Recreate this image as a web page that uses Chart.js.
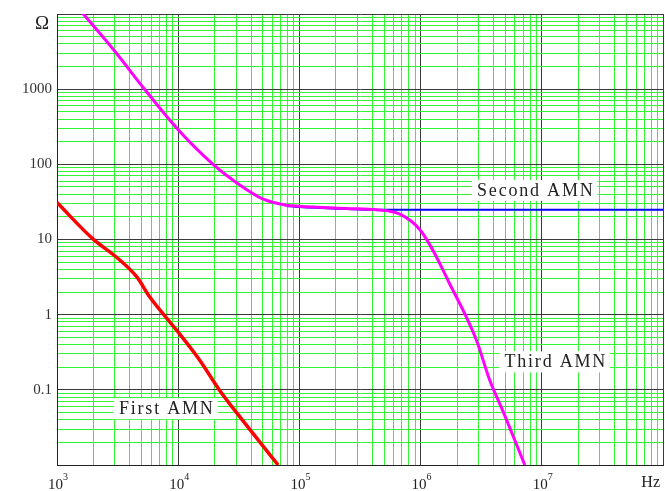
<!DOCTYPE html>
<html>
<head>
<meta charset="utf-8">
<script src="https://cdn.jsdelivr.net/npm/chart.js@4.4.1/dist/chart.umd.min.js"></script>
<style>
html, body { margin: 0; padding: 0; background: #fff; }
#wrap { width: 665px; height: 491px; }
</style>
</head>
<body>
<div id="wrap"><canvas id="chart" width="665" height="491"></canvas></div>
<script>
// Impedance (Ω) vs frequency (Hz) of three AMN types, log-log

const xTickValues = [1e3, 1e4, 1e5, 1e6, 1e7];
const xTickExps = ['3', '4', '5', '6', '7'];
const xUnit = 'Hz';

const yTickValues = [1e3, 1e2, 10, 1, 0.1];
const yTickLabels = ['1000', '100', '10', '1', '0.1'];
const yUnit = 'Ω';

const firstFreq = [1000, 1990, 3100, 4540, 5850, 7480, 10000, 15100, 22000, 32300, 66800];
const firstOhm  = [31, 10.1, 5.8, 3.2, 1.7, 1.03, 0.585, 0.246, 0.098, 0.0436, 0.01];

const secondFreq = [78400, 1e5, 245000, 434000, 1e6, 1e7, 1e8];
const secondOhm  = [28, 27, 25.4, 24.8, 24.8, 24.8, 24.8];

const thirdFreq = [1000, 1650, 3000, 5300, 9700, 19400, 30300, 50300, 78400, 1e5, 245000, 434000,
                   675000, 987000, 1.27e6, 1.74e6, 2.39e6, 2.9e6, 3.72e6, 4.76e6, 7.24e6];
const thirdOhm  = [26000, 10000, 3190, 990, 305, 100, 57, 34.4, 28.6, 27.7, 25.8, 24.8,
                   21.7, 13.5, 7.1, 2.56, 0.92, 0.45, 0.134, 0.053, 0.01];

// curve captions, anchored in data units
const notes = [
    { text: 'First AMN', f: 7900, ohm: 0.057 },
    { text: 'Second AMN', f: 8.75e6, ohm: 45.6 },
    { text: 'Third AMN', f: 1.28e7, ohm: 0.239 }
];

const SERIF = "'Liberation Serif', 'Times New Roman', serif";
const GREEN = '#33f533';
const DARK = '#3a3a3a';

const toPoints = (xs, ys) => xs.map((x, i) => ({ x: x, y: ys[i] }));

const isDecade = v => Math.abs(Math.log10(v) - Math.round(Math.log10(v))) < 1e-9;

// 1..9 x 10^n ticks so every minor grid line is drawn
function logTicks(min, max) {
    const ticks = [];
    for (let e = Math.round(Math.log10(min)); e <= Math.round(Math.log10(max)); e++) {
        for (let m = 1; m <= 9; m++) {
            const v = m * Math.pow(10, e);
            if (v >= min * 0.999 && v <= max * 1.001) ticks.push({ value: v });
        }
    }
    return ticks;
}

const gridColor = ctx => (ctx.tick && isDecade(ctx.tick.value)) ? DARK : GREEN;

const labelPlugin = {
    id: 'labels',
    afterDraw(chart) {
        const ctx = chart.ctx;
        const xs = chart.scales.x, ys = chart.scales.y;
        const area = chart.chartArea;
        ctx.save();
        ctx.fillStyle = '#222';
        ctx.textBaseline = 'alphabetic';

        // x tick labels: 10 with superscript exponent
        xTickValues.forEach((v, i) => {
            const px = xs.getPixelForValue(v);
            ctx.font = '15px ' + SERIF;
            const w1 = ctx.measureText('10').width;
            ctx.font = '10px ' + SERIF;
            const w2 = ctx.measureText(xTickExps[i]).width;
            const start = px - (w1 + w2) / 2 + 1;
            ctx.font = '15px ' + SERIF;
            ctx.textAlign = 'left';
            ctx.fillText('10', start, area.bottom + 24);
            ctx.font = '10px ' + SERIF;
            ctx.fillText(xTickExps[i], start + w1, area.bottom + 15);
        });

        ctx.font = '16px ' + SERIF;
        ctx.textAlign = 'right';
        ctx.fillText(xUnit, area.right - 3, area.bottom + 22);

        ctx.font = '19px ' + SERIF;
        ctx.textAlign = 'center';
        ctx.textBaseline = 'middle';
        ctx.fillText(yUnit, area.left - 15, area.top + 10);

        // curve captions on white boxes
        ctx.font = '18px ' + SERIF;
        ctx.letterSpacing = '1.8px';
        notes.forEach(n => {
            const cx = xs.getPixelForValue(n.f);
            const cy = ys.getPixelForValue(n.ohm);
            const w = ctx.measureText(n.text).width + 8;
            ctx.fillStyle = '#fff';
            ctx.fillRect(cx - w / 2, cy - 10, w, 21);
            ctx.fillStyle = '#222';
            ctx.fillText(n.text, cx + 1, cy + 1);
        });
        ctx.restore();
    }
};

new Chart(document.getElementById('chart'), {
    type: 'line',
    data: {
        datasets: [
            {
                label: 'Third AMN',
                data: toPoints(thirdFreq, thirdOhm),
                borderColor: '#ff00ff',
                borderWidth: 3,
                cubicInterpolationMode: 'monotone'
            },
            {
                label: 'First AMN',
                data: toPoints(firstFreq, firstOhm),
                borderColor: '#ff0000',
                borderWidth: 3.5,
                cubicInterpolationMode: 'monotone'
            },
            {
                label: 'Second AMN',
                data: toPoints(secondFreq, secondOhm),
                borderColor: '#0000ff',
                borderWidth: 2,
                cubicInterpolationMode: 'monotone'
            }
        ]
    },
    options: {
        responsive: false,
        animation: false,
        events: [],
        layout: { padding: { top: 12, right: 2, left: 0, bottom: 0 } },
        elements: { point: { radius: 0 } },
        plugins: {
            legend: { display: false },
            tooltip: { enabled: false }
        },
        scales: {
            x: {
                type: 'logarithmic',
                min: 1e3,
                max: 1e8,
                afterBuildTicks: s => { s.ticks = logTicks(1e3, 1e8); },
                afterFit: s => { s.height = 26; },
                ticks: { display: false, autoSkip: false },
                grid: { color: gridColor, lineWidth: 1, drawTicks: false },
                border: { display: true, color: '#222', width: 1 }
            },
            y: {
                type: 'logarithmic',
                min: 0.01,
                max: 1e4,
                afterBuildTicks: s => { s.ticks = logTicks(0.01, 1e4); },
                afterFit: s => { s.width = 57; },
                ticks: {
                    autoSkip: false,
                    padding: 5,
                    color: '#333',
                    font: { family: SERIF, size: 15 },
                    callback: v => {
                        const i = yTickValues.findIndex(t => Math.abs(t - v) / t < 1e-6);
                        return i >= 0 ? yTickLabels[i] : '';
                    }
                },
                grid: { color: gridColor, lineWidth: 1, drawTicks: false },
                border: { display: true, color: '#222', width: 1 }
            }
        }
    },
    plugins: [labelPlugin]
});
</script>
</body>
</html>
